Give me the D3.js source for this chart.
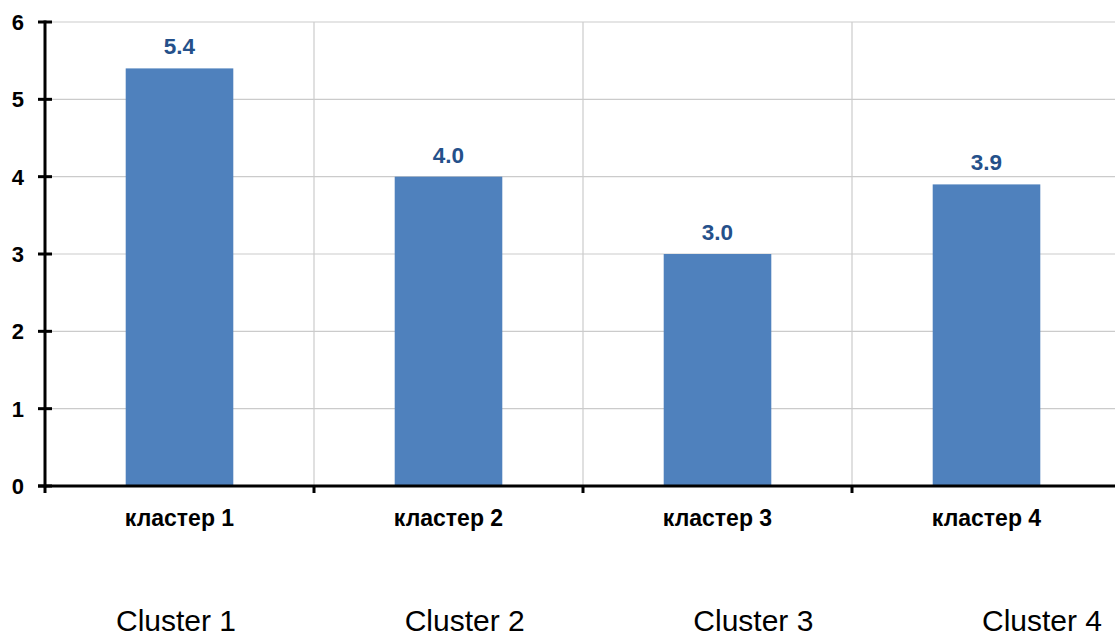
<!DOCTYPE html>
<html>
<head>
<meta charset="utf-8">
<script src="https://cdn.jsdelivr.net/npm/d3@7/dist/d3.min.js"></script>
<style>
  html, body { margin: 0; padding: 0; background: #ffffff; }
  svg { display: block; }
</style>
</head>
<body>
<script>
// Chart data
const categories = ["кластер 1", "кластер 2", "кластер 3", "кластер 4"];
const values = [5.4, 4.0, 3.0, 3.9];
const yTicks = [0, 1, 2, 3, 4, 5, 6];
const footerLabels = ["Cluster 1", "Cluster 2", "Cluster 3", "Cluster 4"];

const W = 1115, H = 636;
const plot = { left: 45, top: 22, bottom: 486, bandW: 269 };

const svg = d3.select("body").append("svg")
  .attr("width", W).attr("height", H);

const x = d3.scaleBand()
  .domain(categories)
  .range([plot.left, plot.left + plot.bandW * categories.length])
  .paddingInner(0).paddingOuter(0);

const y = d3.scaleLinear()
  .domain([0, 6])
  .range([plot.bottom, plot.top]);

const barFrac = 0.4;
const font = "'Liberation Sans', Arial, Helvetica, sans-serif";

// Gridlines
const grid = svg.append("g").attr("stroke", "#cbcbcb").attr("stroke-width", 1.2);
grid.selectAll("line.h").data(yTicks.filter(d => d > 0)).join("line")
  .attr("x1", plot.left).attr("x2", W)
  .attr("y1", d => y(d)).attr("y2", d => y(d));
grid.selectAll("line.v").data(categories.slice(1)).join("line")
  .attr("x1", d => x(d)).attr("x2", d => x(d))
  .attr("y1", y(6)).attr("y2", y(0));

// Bars
svg.append("g").selectAll("rect").data(values).join("rect")
  .attr("x", (d, i) => x(categories[i]) + x.bandwidth() * (1 - barFrac) / 2)
  .attr("width", x.bandwidth() * barFrac)
  .attr("y", d => y(d))
  .attr("height", d => y(0) - y(d))
  .attr("fill", "#4f81bd");

// Value labels
svg.append("g").selectAll("text").data(values).join("text")
  .attr("x", (d, i) => x(categories[i]) + x.bandwidth() / 2)
  .attr("y", d => y(d) - 14)
  .attr("text-anchor", "middle")
  .attr("font-family", font).attr("font-weight", "bold").attr("font-size", 22.5)
  .attr("fill", "#24508a")
  .text(d => d.toFixed(1));

// Y axis
const yAxis = svg.append("g").attr("transform", `translate(${plot.left},0)`);
yAxis.append("line")
  .attr("x1", 0).attr("x2", 0).attr("y1", y(6) - 1.5).attr("y2", y(0) + 1.5)
  .attr("stroke", "#000").attr("stroke-width", 3);
yAxis.selectAll("line.tick").data(yTicks).join("line")
  .attr("x1", -7).attr("x2", 7)
  .attr("y1", d => y(d)).attr("y2", d => y(d))
  .attr("stroke", "#000").attr("stroke-width", 3);
yAxis.selectAll("text").data(yTicks).join("text")
  .attr("x", -21).attr("y", d => y(d)).attr("dy", "0.36em")
  .attr("text-anchor", "end")
  .attr("font-family", font).attr("font-weight", "bold").attr("font-size", 22)
  .attr("fill", "#000")
  .text(d => d);

// X axis
const xAxis = svg.append("g").attr("transform", `translate(0,${plot.bottom})`);
xAxis.append("line")
  .attr("x1", plot.left - 7).attr("x2", W).attr("y1", 0).attr("y2", 0)
  .attr("stroke", "#000").attr("stroke-width", 3);
xAxis.selectAll("line.tick").data(categories).join("line")
  .attr("x1", d => x(d)).attr("x2", d => x(d))
  .attr("y1", 0).attr("y2", 7)
  .attr("stroke", "#000").attr("stroke-width", 3);
xAxis.selectAll("text").data(categories).join("text")
  .attr("x", d => x(d) + x.bandwidth() / 2)
  .attr("y", 40)
  .attr("text-anchor", "middle")
  .attr("font-family", font).attr("font-weight", "bold").attr("font-size", 23)
  .attr("fill", "#000")
  .text(d => d);

// Footer captions
const fx = d3.scalePoint().domain(footerLabels).range([176, 1042]);
svg.append("g").selectAll("text").data(footerLabels).join("text")
  .attr("x", d => fx(d)).attr("y", 631)
  .attr("text-anchor", "middle")
  .attr("font-family", font).attr("font-size", 30)
  .attr("fill", "#000")
  .text(d => d);
</script>
</body>
</html>
